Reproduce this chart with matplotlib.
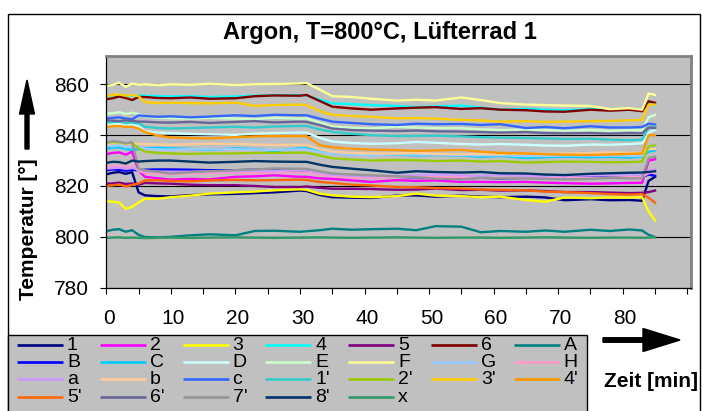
import numpy as np
import matplotlib
matplotlib.use('Agg')
import matplotlib.pyplot as plt
from matplotlib.patches import Rectangle, FancyArrow
from matplotlib.transforms import ScaledTranslation

plt.rcParams['font.family'] = ['Liberation Sans', 'DejaVu Sans']

# time in minutes
t = [0, 1, 2, 3, 4, 5, 6, 8, 10, 13, 16, 20, 23, 26, 30, 31, 33, 35, 38, 41,
     45, 48, 51, 55, 58, 61, 65, 68, 71, 75, 78, 81, 83, 84, 85]

# thermocouple readings in deg C
s1 = [824.6, 825.2, 825.5, 824.8, 825.4, 817.5, 816.3, 816.0, 815.9, 816.4,
      816.7, 816.9, 817.2, 817.5, 818.2, 818.0, 816.5, 815.6, 815.4, 815.3,
      816.2, 816.3, 815.8, 816.2, 815.8, 815.6, 815.8, 815.5, 814.4, 814.8,
      814.4, 814.5, 814.2, 822.0, 823.6]
s2 = [832.5, 833.0, 833.2, 832.3, 833.5, 826.0, 823.6, 823.0, 822.5, 822.8,
      822.6, 823.6, 823.8, 824.2, 823.6, 823.6, 823.0, 822.8, 822.2, 821.6,
      822.3, 822.0, 822.2, 821.6, 821.6, 821.5, 821.6, 821.3, 821.1, 820.9,
      821.0, 821.2, 821.3, 830.0, 830.5]
s3 = [814.0, 813.8, 813.5, 811.0, 811.8, 813.5, 815.0, 815.0, 815.6, 816.2,
      817.0, 817.5, 817.8, 818.3, 818.7, 818.5, 817.0, 816.3, 815.8, 815.6,
      816.0, 817.0, 816.2, 816.0, 815.6, 815.8, 814.5, 813.8, 815.5, 815.2,
      815.5, 815.4, 815.6, 810.0, 806.4]
s4 = [855.5, 855.6, 855.8, 855.4, 855.5, 855.6, 855.5, 855.3, 855.2, 855.3,
      855.0, 855.2, 855.5, 855.7, 855.7, 855.6, 854.0, 852.5, 852.2, 851.8,
      851.5, 851.0, 851.3, 851.6, 850.8, 850.0, 850.3, 850.0, 849.8, 850.2,
      850.0, 850.3, 850.0, 852.6, 851.8]
s5 = [820.9, 821.0, 821.3, 820.8, 821.0, 820.5, 821.2, 821.0, 820.9, 820.5,
      820.3, 820.3, 820.0, 819.6, 819.6, 819.8, 819.3, 818.9, 818.9, 818.8,
      818.5, 818.6, 819.0, 818.4, 818.5, 818.2, 818.3, 818.0, 817.6, 817.6,
      817.4, 817.2, 817.3, 817.6, 818.2]
s6 = [854.1, 854.5, 855.2, 854.6, 853.8, 855.0, 855.0, 854.6, 854.5, 854.8,
      854.3, 854.5, 855.3, 855.6, 855.5, 855.8, 853.5, 851.2, 850.5, 850.0,
      850.5, 850.8, 851.0, 850.3, 850.6, 850.0, 849.8, 849.3, 849.2, 850.0,
      849.6, 850.0, 849.4, 853.3, 852.7]
sA = [802.2, 802.8, 803.0, 802.0, 802.6, 800.8, 799.9, 799.8, 800.0, 800.6,
      801.0, 800.6, 802.3, 802.4, 802.0, 802.2, 802.6, 803.2, 802.8, 803.0,
      803.2, 802.6, 804.2, 804.0, 801.8, 802.3, 802.0, 802.5, 802.0, 802.8,
      802.3, 802.9, 802.5, 800.8, 799.9]
sB = [826.2, 826.5, 826.4, 826.0, 826.3, 826.2, 826.4, 826.5, 826.5, 826.4,
      826.2, 826.2, 826.4, 826.3, 826.2, 826.2, 825.3, 824.6, 824.0, 823.6,
      823.6, 823.3, 823.2, 823.0, 823.2, 823.0, 823.2, 823.0, 823.4, 823.6,
      823.4, 823.5, 823.6, 824.5, 824.0]
sC = [834.8, 835.0, 835.2, 834.6, 834.2, 834.5, 834.8, 835.0, 834.8, 834.6,
      834.2, 834.8, 834.5, 833.8, 834.8, 834.8, 833.8, 832.8, 832.5, 832.2,
      832.4, 832.0, 832.2, 832.0, 831.5, 831.8, 831.0, 831.3, 831.5, 831.3,
      831.4, 831.2, 831.5, 833.5, 834.0]
sD = [844.0, 844.2, 844.4, 843.9, 844.1, 843.5, 841.5, 841.0, 840.8, 840.5,
      840.3, 840.1, 840.6, 840.8, 841.0, 841.0, 839.0, 837.5, 836.9, 836.6,
      836.8, 837.3, 837.0, 836.5, 836.3, 836.5, 836.2, 835.9, 835.8, 836.3,
      836.2, 836.5, 836.8, 841.0, 842.0]
sE = [848.4, 848.6, 849.0, 848.3, 848.8, 848.3, 847.2, 846.8, 846.6, 846.5,
      846.8, 846.5, 846.3, 846.8, 846.5, 846.6, 845.0, 843.4, 842.9, 842.6,
      843.3, 843.0, 842.8, 842.7, 842.3, 842.0, 842.2, 842.0, 841.8, 842.0,
      841.7, 842.0, 842.0, 847.0, 848.0]
sF = [859.3, 859.8, 860.6, 859.0, 860.3, 859.8, 860.0, 859.6, 860.0, 859.8,
      860.2, 859.7, 860.0, 860.1, 860.3, 860.5, 858.0, 855.3, 855.0, 854.3,
      853.6, 853.9, 853.6, 854.8, 853.8, 852.6, 852.0, 851.8, 851.6, 851.5,
      850.2, 850.6, 850.0, 856.4, 855.8]
sG = [835.8, 835.6, 836.0, 835.2, 835.5, 835.4, 834.6, 834.4, 834.3, 834.5,
      834.4, 834.5, 834.3, 834.2, 834.4, 834.4, 833.4, 832.8, 832.4, 832.0,
      832.5, 832.3, 832.4, 832.2, 832.0, 832.1, 831.7, 831.8, 832.0, 831.9,
      832.0, 831.8, 831.8, 834.5, 835.0]
sH = [827.6, 827.8, 828.0, 827.5, 827.7, 826.0, 825.0, 824.8, 824.6, 824.9,
      825.0, 825.2, 825.0, 825.4, 825.2, 825.2, 824.5, 823.8, 823.4, 823.2,
      823.6, 823.4, 823.6, 823.5, 823.0, 823.3, 823.1, 823.0, 823.4, 823.2,
      823.3, 823.5, 823.6, 825.0, 825.5]
sa = [826.8, 827.0, 827.2, 826.7, 827.0, 826.5, 825.8, 825.6, 825.5, 825.6,
      825.8, 825.8, 826.0, 826.0, 826.2, 826.2, 825.2, 824.4, 824.0, 823.8,
      824.0, 824.2, 824.5, 824.2, 824.0, 824.4, 824.0, 823.8, 824.0, 824.2,
      824.4, 824.6, 824.5, 826.0, 826.5]
sb = [836.6, 836.8, 837.0, 836.5, 836.8, 836.5, 836.5, 836.3, 836.2, 836.4,
      836.6, 836.6, 836.3, 836.1, 836.2, 836.2, 834.5, 833.5, 833.0, 832.8,
      832.8, 833.0, 832.6, 832.5, 832.6, 832.5, 832.8, 832.6, 832.7, 832.9,
      833.2, 833.0, 833.0, 834.5, 834.6]
sc = [846.6, 846.8, 847.0, 846.5, 846.2, 847.8, 847.5, 847.2, 847.4, 847.0,
      847.3, 847.8, 847.5, 848.0, 847.8, 847.8, 846.5, 845.3, 844.8, 844.3,
      844.0, 844.5, 844.3, 844.4, 844.0, 844.3, 842.8, 843.2, 842.7, 843.5,
      843.0, 843.0, 843.2, 844.5, 844.2]
s1p = [844.9, 845.2, 845.3, 844.8, 845.0, 844.6, 843.3, 842.8, 842.6, 842.8,
       843.0, 843.3, 843.0, 843.4, 843.6, 843.6, 842.3, 841.3, 840.5, 840.0,
       839.6, 839.7, 839.8, 839.5, 839.2, 839.0, 838.9, 838.7, 838.5, 838.6,
       838.2, 838.0, 838.2, 843.0, 843.3]
s2p = [837.0, 837.3, 837.1, 836.8, 837.0, 834.8, 833.5, 833.0, 832.8, 832.6,
       832.8, 832.8, 833.0, 833.0, 833.1, 833.1, 832.0, 830.9, 830.4, 830.0,
       830.2, 830.1, 829.8, 830.0, 829.6, 829.8, 829.2, 829.4, 829.6, 829.5,
       829.3, 829.4, 829.6, 835.5, 836.0]
s3p = [855.5, 855.8, 856.0, 855.5, 855.8, 855.3, 853.0, 852.6, 852.8, 852.6,
       852.5, 852.8, 851.5, 851.8, 852.0, 851.8, 849.5, 848.0, 847.5, 847.2,
       846.6, 846.7, 846.5, 846.0, 845.8, 845.3, 845.5, 845.2, 845.3, 845.5,
       845.6, 845.8, 846.0, 852.0, 852.0]
s4p = [843.3, 843.5, 843.6, 843.2, 843.3, 842.6, 841.2, 839.8, 839.1, 838.8,
       838.7, 839.2, 839.5, 839.6, 839.6, 839.6, 836.1, 835.2, 834.6, 834.3,
       834.1, 833.8, 834.0, 834.2, 833.5, 833.0, 832.8, 832.5, 832.3, 832.2,
       832.4, 832.6, 832.8, 840.0, 840.0]
s5p = [820.0, 820.3, 820.6, 819.8, 820.4, 821.0, 822.2, 822.2, 822.0, 821.8,
       822.2, 822.4, 822.2, 822.3, 822.5, 822.4, 821.6, 821.2, 820.5, 820.2,
       819.6, 819.5, 819.2, 819.0, 818.6, 818.5, 818.3, 817.8, 817.6, 817.2,
       816.8, 816.6, 816.8, 815.4, 813.4]
s6p = [845.9, 845.7, 845.5, 845.8, 845.6, 845.3, 845.3, 845.0, 844.9, 845.2,
       844.8, 845.2, 845.5, 845.0, 845.3, 845.2, 844.0, 842.6, 842.0, 841.8,
       841.6, 841.8, 841.5, 841.4, 841.2, 841.0, 841.2, 840.8, 840.7, 840.8,
       840.6, 840.8, 840.7, 843.0, 842.8]
s7p = [837.1, 837.6, 837.4, 836.8, 837.2, 826.8, 826.2, 825.5, 824.9, 825.4,
       825.8, 826.2, 826.5, 826.9, 826.8, 826.7, 825.8, 824.9, 824.5, 824.2,
       823.8, 823.5, 822.9, 822.6, 823.2, 823.0, 823.0, 822.8, 822.6, 822.8,
       823.2, 823.0, 823.0, 831.0, 831.5]
s8p = [829.1, 829.5, 829.4, 828.8, 830.0, 829.6, 829.8, 830.0, 830.0, 829.6,
       829.2, 829.5, 829.8, 829.6, 829.5, 829.5, 828.4, 827.5, 826.8, 826.2,
       825.2, 825.8, 825.5, 825.3, 825.5, 825.0, 824.9, 824.5, 824.3, 824.8,
       825.0, 825.2, 825.3, 825.5, 825.8]
sx = [799.6, 799.7, 799.8, 799.6, 799.7, 799.6, 799.5, 799.6, 799.7, 799.6,
      799.7, 799.8, 799.7, 799.6, 799.7, 799.7, 799.8, 799.7, 799.6, 799.7,
      799.8, 799.7, 799.6, 799.7, 799.7, 799.6, 799.7, 799.8, 799.7, 799.6,
      799.7, 799.7, 799.6, 799.7, 799.8]

names = ['1', '2', '3', '4', '5', '6', 'A', 'B', 'C', 'D', 'E', 'F', 'G', 'H',
         'a', 'b', 'c', "1'", "2'", "3'", "4'", "5'", "6'", "7'", "8'", 'x']
series = [s1, s2, s3, s4, s5, s6, sA, sB, sC, sD, sE, sF, sG, sH,
          sa, sb, sc, s1p, s2p, s3p, s4p, s5p, s6p, s7p, s8p, sx]
colors = ['#000080', '#FF00FF', '#FFFF00', '#00FFFF', '#800080', '#800000',
          '#008080', '#0000FF', '#00CCFF', '#CCFFFF', '#CCFFCC', '#FFFF99',
          '#99CCFF', '#FF99CC', '#CC99FF', '#FFCC99', '#3366FF', '#33CCCC',
          '#99CC00', '#FFCC00', '#FF9900', '#FF6600', '#666699', '#969696',
          '#003366', '#339966']

yticks = [780, 800, 820, 840, 860]
xticks = np.arange(0, 91, 5)
xlabels = [str(v) if v % 10 == 0 and v < 90 else '' for v in xticks]

W, H = 702, 411
fig = plt.figure(figsize=(W / 100, H / 100), dpi=100)

# pixel-space layer for the frame, legend, arrows and free text
ov = fig.add_axes([0, 0, 1, 1], zorder=0)
ov.set_xlim(0, W)
ov.set_ylim(H, 0)
ov.axis('off')
ov.add_patch(Rectangle((8, 14), 692, 420, fill=False, ec='black', lw=1))
ov.text(380, 33, 'Argon, T=800°C, Lüfterrad 1', ha='center', va='center',
        fontsize=17, fontweight='bold')
ov.text(29, 229, 'Temperatur [°]', rotation=90, ha='center', va='center',
        fontsize=15, fontweight='bold')
ov.text(604, 381, 'Zeit [min]', ha='left', va='center',
        fontsize=15, fontweight='bold')
ov.add_patch(FancyArrow(27, 149, 0, -69, width=4, head_width=15,
                        head_length=34, length_includes_head=True,
                        color='black'))
ov.add_patch(FancyArrow(603, 340, 77, 0, width=4.5, head_width=23,
                        head_length=37, length_includes_head=True,
                        color='black'))

# legend box, filled row by row
ov.add_patch(Rectangle((8, 335), 579, 100, fc='#C0C0C0', ec='black', lw=1))
for i, (name, col) in enumerate(zip(names, colors)):
    r, c = divmod(i, 7)
    x0 = 17 + 82.8 * c
    y0 = 345 + 17.2 * r
    ov.plot([x0, x0 + 46], [y0, y0], color=col, lw=1.9,
            solid_capstyle='butt')
    ov.text(x0 + 50, y0 + 0.5, name, ha='left', va='center', fontsize=14)

# chart area
ax = fig.add_axes([106.3 / W, 1 - 287.7 / H, (691.2 - 106.3) / W,
                   (287.7 - 56.3) / H], zorder=2)
ax.set_facecolor('#C0C0C0')
for s, col in zip(series, colors):
    ax.plot(t, s, color=col, lw=1.7, solid_joinstyle='round')

ax.set_xlim(0, 90.6)
ax.set_ylim(780, 871)
ax.set_yticks(yticks)
ax.set_xticks(xticks)
ax.set_xticklabels(xlabels)
ax.yaxis.grid(True, color='black', lw=0.8)
ax.set_axisbelow(True)
ax.tick_params(axis='both', direction='out', length=4.5, width=0.8,
               labelsize=15, colors='black')
ax.tick_params(axis='y', pad=8)
ax.tick_params(axis='x', pad=11)
shift = ScaledTranslation(2.5 / 100, 0, fig.dpi_scale_trans)
for lab in ax.get_xticklabels():
    lab.set_transform(lab.get_transform() + shift)
for side in ['left', 'bottom']:
    ax.spines[side].set_color('black')
    ax.spines[side].set_linewidth(0.9)
for side in ['top', 'right']:
    ax.spines[side].set_color('#808080')
    ax.spines[side].set_linewidth(2.0)

fig.savefig('out.png', dpi=100)
